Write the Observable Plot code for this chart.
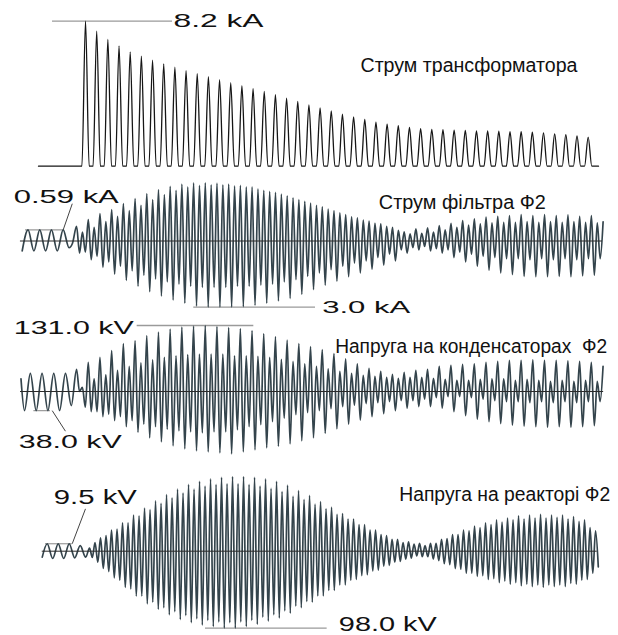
<!DOCTYPE html>
<html><head><meta charset="utf-8">
<script src="https://cdn.jsdelivr.net/npm/d3@7"></script>
<script src="https://cdn.jsdelivr.net/npm/@observablehq/plot@0.6"></script>
<style>
body{margin:0;background:#fff;}
#chart{width:618px;}
#chart svg{display:block;overflow:visible;}
</style></head><body><div id="chart"></div>
<script>
// ---------- titles and annotation labels ----------
const titles = ["Струм трансформатора", "Струм фільтра Ф2", "Напруга на конденсаторах\u00A0 Ф2", "Напруга на реакторі Ф2"];
const valueLabels = ["8.2 kA", "0.59 kA", "3.0 kA", "131.0 kV", "38.0 kV", "9.5 kV", "98.0 kV"];

// ---------- panel 1: transformer current, peak of each 50 Hz pulse (kA) ----------
const transformerPeaks = [8.20,7.64,7.17,6.81,6.47,6.22,6.00,5.79,5.60,5.41,5.24,5.07,4.90,4.73,4.55,4.38,4.23,4.04,3.85,3.66,3.47,3.30,3.13,2.94,2.79,2.64,2.49,2.38,2.29,2.19,2.13,2.08,2.06,2.04,2.02,2.00,2.00,1.98,1.96,1.95,1.92,1.89,1.83,1.78,1.72,1.64];

// ---------- panel 2: filter current (kA) ----------
const filterPreT = [0,10,20,30,40,50,60,70,80,86];
const filterPre = [-0.45,0.5,-0.45,0.5,-0.45,0.5,-0.45,0.5,-0.3,-0.1];
const filterPeaks = [.66,.40,.97,.62,1.24,.88,1.42,1.12,1.69,1.38,
1.92,1.62,2.15,1.88,2.33,2.10,2.48,2.30,2.58,2.45,
2.63,2.52,2.64,2.55,2.62,2.55,2.58,2.50,2.52,2.45,
2.45,2.36,2.30,2.25,2.20,2.12,2.05,1.96,1.88,1.80,
1.72,1.62,1.55,1.45,1.38,1.28,1.20,1.10,1.05,.95,
.90,.80,.78,.66,.62,.48,.42,.32,.55,.35,
.60,.40,.70,.50,.80,.62,.92,.72,1.00,.78,
1.08,.82,1.12,.85,1.15,.85,1.20,.88,1.15,.85,
1.20,.88,1.15,.85,1.18,.88,1.12,.85,1.15,.82,.87];
const filterTroughs = [-.55,-.50,-.85,-.70,-1.20,-.95,-1.50,-1.15,-1.78,-1.35,
-2.05,-1.55,-2.30,-1.72,-2.50,-1.85,-2.68,-1.95,-2.82,-2.05,
-2.95,-2.10,-3.00,-2.10,-3.00,-2.10,-3.00,-2.05,-2.98,-2.05,
-2.92,-2.00,-2.82,-1.95,-2.72,-1.85,-2.60,-1.75,-2.42,-1.60,
-2.20,-1.45,-2.00,-1.30,-1.82,-1.15,-1.62,-1.00,-1.45,-.90,
-1.28,-.75,-1.10,-.60,-.90,-.40,-.55,-.30,-.40,-.25,
-.45,-.35,-.55,-.40,-.75,-.50,-.95,-.60,-1.15,-.70,
-1.32,-.75,-1.45,-.80,-1.52,-.80,-1.60,-.85,-1.62,-.80,
-1.62,-.85,-1.60,-.80,-1.62,-.85,-1.58,-.80,-1.55,-.80];

// ---------- panel 3: capacitor voltage (kV) ----------
const capPreT = [-6,0,10,20,30,40,50,60,70,80];
const capPre = [25,-38,36,-38,36,-38,36,-38,36,-28];
const capPeaks = [44,8,58,25,68,33,81,42,95,50,
101,57,111,63,118,68,124,71,128,73,
130,74,131,74,129,74,127,71,125,71,
121,70,115,68,109,64,102,60,95,55,
89,50,83,45,75,40,65,36,55,32,
46,30,40,28,34,26,38,28,42,28,
44,26,50,24,52,22,54,22,55,24,
58,25,60,25,62,22,62,24,63,22,
62,20,62,22,61,20,60,22,58,20,50];
const capTroughs = [0,-31,-40,-40,-50,-45,-58,-50,-70,-58,
-81,-65,-92,-70,-100,-75,-108,-78,-114,-80,
-118,-82,-120,-80,-122,-80,-124,-76,-120,-70,
-116,-66,-112,-60,-109,-53,-104,-46,-98,-42,
-92,-38,-83,-34,-74,-30,-65,-27,-57,-24,
-50,-22,-44,-20,-38,-18,-33,-18,-30,-15,
-30,-12,-33,-10,-40,-10,-48,-12,-55,-15,
-60,-18,-64,-20,-67,-20,-69,-22,-70,-20,
-71,-22,-70,-20,-71,-22,-70,-20,-68,-20];

// ---------- panel 4: reactor voltage (kV) ----------
const reactPreT = [-9,0,10,20,30,40,50,60,70];
const reactPre = [-7.6,9.5,-9.3,9.5,-9.3,9.5,-8.5,7,-7.6];
const reactPeaks = [4,11,17,20,27,28,36,36,46,45,
55,53,64,61,72,68,79,74,85,79,
89,83,92,85,94,86,95,86,95,85,
94,83,92,80,89,76,84,70,77,66,
71,60,63,54,56,47,48,41,41,34,
34,27,27,21,20,15,15,11,12,9,
10,7,10,10,15,16,21,21,27,26,
32,30,36,34,40,37,42,40,45,41,
46,42,47,42,46,43,46,41,44,38,40,30,26];
const reactTroughs = [-8,-14,-22,-26,-34,-37,-46,-48,-57,-57,
-67,-65,-74,-72,-81,-77,-87,-82,-91,-86,
-94,-88,-96,-90,-98,-91,-98,-90,-96,-88,
-93,-84,-89,-81,-85,-76,-79,-70,-72,-64,
-65,-57,-57,-50,-50,-43,-43,-37,-36,-31,
-30,-25,-24,-19,-18,-14,-13,-10,-9,-6,
-7,-7,-10,-12,-16,-17,-22,-23,-28,-28,
-32,-31,-36,-35,-40,-38,-42,-40,-44,-42,
-45,-43,-46,-43,-45,-43,-45,-41,-42,-37,-36,-28,-20];

// ---------- build traces (time in ms) ----------
function wave(preT, preV, t0, peaks, troughs) {
  const pts = preT.map((t, i) => ({t, v: preV[i]}));
  peaks.forEach((p, k) => {
    pts.push({t: t0 + 10 * k, v: p});
    if (k < troughs.length) pts.push({t: t0 + 10 * k + 5, v: troughs[k]});
  });
  return pts;
}
function pulses(peaks, t0, half, tEnd) {
  const pts = [{t: 0, v: 0}];
  peaks.forEach((p, k) => {
    const tp = t0 + 20 * k;
    pts.push({t: tp - half, v: 0}, {t: tp, v: p}, {t: tp + half, v: 0});
  });
  pts.push({t: tEnd, v: 0});
  return pts;
}

const FONT = "'Liberation Sans', Arial, sans-serif";
const INK = "#111";
const WAVE = "#34444c";
const GUIDE = "#9a9a9a";
const LEADER = "#444";
const widths = {};
widths[valueLabels[0]] = 90; widths[valueLabels[1]] = 105; widths[valueLabels[2]] = 88;
widths[valueLabels[3]] = 120; widths[valueLabels[4]] = 103; widths[valueLabels[5]] = 83; widths[valueLabels[6]] = 98;
widths[titles[0]] = 217; widths[titles[1]] = 167; widths[titles[2]] = 272; widths[titles[3]] = 211;

function label(s, x, y, size) {
  return Plot.text([s], {x, y, text: d => d, textAnchor: "start", fontSize: size, fill: INK});
}

function panel(height, xRange, yDomain, yRange, marks) {
  const svg = Plot.plot({
    width: 618, height, margin: 0,
    x: {domain: [0, 1000], range: xRange, axis: null},
    y: {domain: yDomain, range: yRange, axis: null},
    style: {background: "white", fontFamily: FONT, overflow: "visible"},
    marks
  });
  svg.querySelectorAll("text").forEach(el => {
    const w = widths[el.textContent];
    if (w) { el.setAttribute("textLength", w); el.setAttribute("lengthAdjust", "spacingAndGlyphs"); }
  });
  return svg;
}

const chart = document.getElementById("chart");

// Panel 1
const tr = pulses(transformerPeaks, 84.2, 6.5, 1002.7);
chart.appendChild(panel(178, [38, 596.5], [0, 8.2], [165.7, 20.7], [
  Plot.ruleY([d3.max(transformerPeaks)], {x1: 25.1, x2: 240, stroke: GUIDE, strokeWidth: 1.3}),
  Plot.line(tr, {x: "t", y: "v", curve: "monotone-x", stroke: "#161616", strokeWidth: 1.3}),
  label(valueLabels[0], 241.7, 8.2, 19),
  label(titles[0], 576.5, 5.7, 20)
]));

// Panel 2
const fw = wave(filterPreT, filterPre, 93, filterPeaks, filterTroughs);
chart.appendChild(panel(140, [21.7, 606.7], [0, -3], [62.5, 128.7], [
  Plot.ruleY([d3.max(filterPre)], {x1: 5.6, x2: 70, stroke: GUIDE, strokeWidth: 1.2}),
  Plot.ruleY([d3.min(filterTroughs)], {x1: 293.3, x2: 501.4, stroke: GUIDE, strokeWidth: 1.3}),
  Plot.link([0], {x1: 70, y1: d3.max(filterPre), x2: 85.6, y2: 1.69, stroke: LEADER, strokeWidth: 1}),
  Plot.line(fw, {x: "t", y: "v", curve: "monotone-x", stroke: WAVE, strokeWidth: 1.7}),
  Plot.ruleY([0], {x1: -3, x2: 992, stroke: "#2a2a2a", strokeWidth: 1}),
  label(valueLabels[1], -14.4, 1.98, 19),
  label(valueLabels[2], 512.8, -3.04, 16),
  label(titles[1], 609.6, 1.72, 20)
]));

// Panel 3
const cw = wave(capPreT, capPre, 89, capPeaks, capTroughs);
chart.appendChild(panel(144, [24, 609], [0, 131], [73, 7], [
  Plot.ruleY([d3.max(capPeaks)], {x1: 192.6, x2: 392, stroke: GUIDE, strokeWidth: 1.3}),
  Plot.ruleY([d3.min(capPre)], {x1: 16, x2: 44.4, stroke: GUIDE, strokeWidth: 1.2}),
  Plot.link([0], {x1: 47.4, y1: d3.min(capPre), x2: 70, y2: -78.8, stroke: LEADER, strokeWidth: 1}),
  Plot.line(cw, {x: "t", y: "v", curve: "monotone-x", stroke: WAVE, strokeWidth: 1.7}),
  Plot.ruleY([0], {x1: -6.8, x2: 990, stroke: "#2a2a2a", strokeWidth: 1}),
  label(valueLabels[3], -18.3, 127, 19),
  label(valueLabels[4], -9.7, -101, 19),
  label(titles[2], 531, 88.5, 20)
]));

// Panel 4
const rw = wave(reactPreT, reactPre, 77, reactPeaks, reactTroughs);
chart.appendChild(panel(173, [46.7, 596.7], [0, -98], [88.7, 165.7], [
  Plot.ruleY([d3.max(reactPre)], {x1: -3.1, x2: 45.5, stroke: GUIDE, strokeWidth: 1.2}),
  Plot.ruleY([d3.min(reactTroughs)], {x1: 287.8, x2: 509, stroke: GUIDE, strokeWidth: 1.3}),
  Plot.link([0], {x1: 45.5, y1: d3.max(reactPre), x2: 69.6, y2: 53.9, stroke: LEADER, strokeWidth: 1}),
  Plot.line(rw, {x: "t", y: "v", curve: "monotone-x", stroke: WAVE, strokeWidth: 1.7}),
  Plot.ruleY([0], {x1: -9, x2: 1000, stroke: "#2a2a2a", strokeWidth: 1}),
  label(valueLabels[5], 12, 67.7, 20),
  label(valueLabels[6], 530.2, -93.5, 20),
  label(titles[3], 640, 71.9, 20)
]));
</script></body></html>
